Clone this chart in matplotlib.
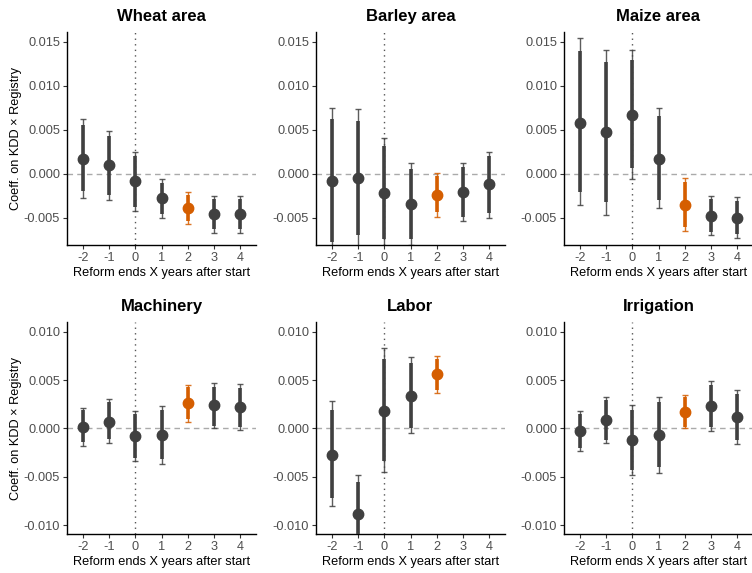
import numpy as np
import matplotlib
matplotlib.use("Agg")
import matplotlib.pyplot as plt

plt.rcParams["font.family"] = ["Liberation Sans", "DejaVu Sans"]

# ------------------------------------------------------------
# Data
# ------------------------------------------------------------
YEARS = [-2, -1, 0, 1, 2, 3, 4]
HIGHLIGHT_YEAR = 2

PANELS = ["Wheat area", "Barley area", "Maize area", "Machinery", "Labor", "Irrigation"]

# point estimates
wheat_est = [0.0017, 0.00095, -0.00084, -0.0028, -0.0039, -0.0046, -0.0046]
barley_est = [-0.0008, -0.0005, -0.0022, -0.0034, -0.0024, -0.0021, -0.0012]
maize_est = [0.0058, 0.0047, 0.0067, 0.0017, -0.0035, -0.0048, -0.0050]
machinery_est = [0.0002, 0.0007, -0.0008, -0.0007, 0.0026, 0.0024, 0.0022]
labor_est = [-0.0027, -0.0088, 0.0018, 0.0034, 0.0056, np.nan, np.nan]
irrigation_est = [-0.0003, 0.0009, -0.0012, -0.0007, 0.0017, 0.0023, 0.0012]

# inner (thick) interval
wheat_lo90 = [-0.0020, -0.0024, -0.0038, -0.0046, -0.0054, -0.0063, -0.0063]
wheat_hi90 = [0.0055, 0.0043, 0.0020, -0.0010, -0.0024, -0.0029, -0.0029]
barley_lo90 = [-0.0078, -0.0070, -0.0074, -0.0074, -0.0044, -0.0049, -0.0045]
barley_hi90 = [0.0062, 0.0060, 0.0031, 0.0005, -0.0003, 0.0008, 0.0020]
maize_lo90 = [-0.0021, -0.0032, 0.0006, -0.0030, -0.0060, -0.0066, -0.0068]
maize_hi90 = [0.0139, 0.0127, 0.0129, 0.0066, -0.0009, -0.0029, -0.0031]
machinery_lo90 = [-0.0014, -0.0011, -0.0030, -0.0032, 0.0010, 0.0003, 0.0002]
machinery_hi90 = [0.0019, 0.0027, 0.0015, 0.0019, 0.0043, 0.0043, 0.0042]
labor_lo90 = [-0.0072, -0.0121, -0.0034, 0.0000, 0.0040, np.nan, np.nan]
labor_hi90 = [0.0019, -0.0055, 0.0072, 0.0068, 0.0072, np.nan, np.nan]
irrigation_lo90 = [-0.0020, -0.0012, -0.0043, -0.0040, 0.0002, 0.0002, -0.0012]
irrigation_hi90 = [0.0015, 0.0029, 0.0019, 0.0027, 0.0033, 0.0045, 0.0036]

# outer (thin, capped) interval
wheat_lo95 = [-0.0028, -0.0030, -0.0042, -0.0050, -0.0057, -0.0067, -0.0067]
wheat_hi95 = [0.0062, 0.0049, 0.0025, -0.0006, -0.0021, -0.0025, -0.0025]
barley_lo95 = [-0.0091, -0.0083, -0.0083, -0.0081, -0.0049, -0.0054, -0.0050]
barley_hi95 = [0.0075, 0.0073, 0.0040, 0.0012, 0.0001, 0.0012, 0.0025]
maize_lo95 = [-0.0036, -0.0047, -0.0006, -0.0039, -0.0065, -0.0070, -0.0073]
maize_hi95 = [0.0154, 0.0141, 0.0140, 0.0075, -0.0005, -0.0025, -0.0027]
machinery_lo95 = [-0.0018, -0.0015, -0.0034, -0.0037, 0.0007, 0.0000, -0.0002]
machinery_hi95 = [0.0021, 0.0030, 0.0018, 0.0023, 0.0045, 0.0047, 0.0046]
labor_lo95 = [-0.0080, -0.0128, -0.0045, -0.0005, 0.0037, np.nan, np.nan]
labor_hi95 = [0.0028, -0.0048, 0.0083, 0.0074, 0.0075, np.nan, np.nan]
irrigation_lo95 = [-0.0023, -0.0015, -0.0048, -0.0046, 0.0000, -0.0003, -0.0016]
irrigation_hi95 = [0.0018, 0.0033, 0.0024, 0.0033, 0.0035, 0.0049, 0.0040]

EST = [wheat_est, barley_est, maize_est, machinery_est, labor_est, irrigation_est]
LO90 = [wheat_lo90, barley_lo90, maize_lo90, machinery_lo90, labor_lo90, irrigation_lo90]
HI90 = [wheat_hi90, barley_hi90, maize_hi90, machinery_hi90, labor_hi90, irrigation_hi90]
LO95 = [wheat_lo95, barley_lo95, maize_lo95, machinery_lo95, labor_lo95, irrigation_lo95]
HI95 = [wheat_hi95, barley_hi95, maize_hi95, machinery_hi95, labor_hi95, irrigation_hi95]

TOP_TICKS = [-0.005, 0.0, 0.005, 0.010, 0.015]
BOTTOM_TICKS = [-0.010, -0.005, 0.0, 0.005, 0.010]

DARK = "#404040"
ORANGE = "#D55E00"
TICK_COLOR = "#4D4D4D"

# ------------------------------------------------------------
# Layout (pixel based, figure is 752 x 573)
# ------------------------------------------------------------
W, H = 752, 573
fig = plt.figure(figsize=(W / 100, H / 100), dpi=100)

lefts = [67, 316, 564]
width = 189
rows = [(32, 245), (322, 534)]


def draw_panel(ax, i):
    est = np.array(EST[i], dtype=float)
    lo90 = np.array(LO90[i], dtype=float)
    hi90 = np.array(HI90[i], dtype=float)
    lo95 = np.array(LO95[i], dtype=float)
    hi95 = np.array(HI95[i], dtype=float)
    x = np.array(YEARS)

    ax.axhline(0, color="#AAAAAA", linestyle=(0, (4, 3)), linewidth=1.0, zorder=1)
    ax.axvline(0, color="#555555", linestyle=(0, (1, 3)), linewidth=1.0, zorder=1)

    for j in range(len(x)):
        if np.isnan(est[j]):
            continue
        col = ORANGE if x[j] == HIGHLIGHT_YEAR else DARK
        ax.errorbar(x[j], est[j], yerr=[[est[j] - lo95[j]], [hi95[j] - est[j]]],
                    fmt="none", ecolor=col, elinewidth=1.0, capsize=2.2,
                    capthick=1.0, zorder=2, alpha=0.85)
        ax.plot([x[j], x[j]], [lo90[j], hi90[j]], color=col, linewidth=2.6,
                solid_capstyle="butt", zorder=3)
        ax.plot(x[j], est[j], "o", color=col, markersize=7.5, zorder=4)

    ax.set_xlim(-2.6, 4.6)
    ax.set_xticks(YEARS)
    ax.set_xticklabels([str(v) for v in YEARS])

    for side in ["top", "right"]:
        ax.spines[side].set_visible(False)
    for side in ["left", "bottom"]:
        ax.spines[side].set_linewidth(1.0)
        ax.spines[side].set_color("black")

    ax.tick_params(axis="both", length=3, width=0.8, color="#333333",
                   labelsize=9.2, labelcolor=TICK_COLOR, pad=2)
    ax.set_title(PANELS[i], fontsize=12, fontweight="bold", pad=8)
    ax.set_xlabel("Reform ends X years after start", fontsize=9.2, labelpad=2.5)


for i in range(6):
    r, c = divmod(i, 3)
    top, bottom = rows[r]
    ax = fig.add_axes([lefts[c] / W, (H - bottom) / H, width / W, (bottom - top) / H])
    draw_panel(ax, i)
    if r == 0:
        ax.set_ylim(-0.0081, 0.0161)
        ax.set_yticks(TOP_TICKS)
    else:
        ax.set_ylim(-0.0109, 0.0110)
        ax.set_yticks(BOTTOM_TICKS)
    ax.set_yticklabels([f"{v:.3f}" for v in ax.get_yticks()])
    if c == 0:
        ax.set_ylabel("Coeff. on KDD × Registry", fontsize=9.2, labelpad=1)

fig.savefig("out.png", dpi=100)
